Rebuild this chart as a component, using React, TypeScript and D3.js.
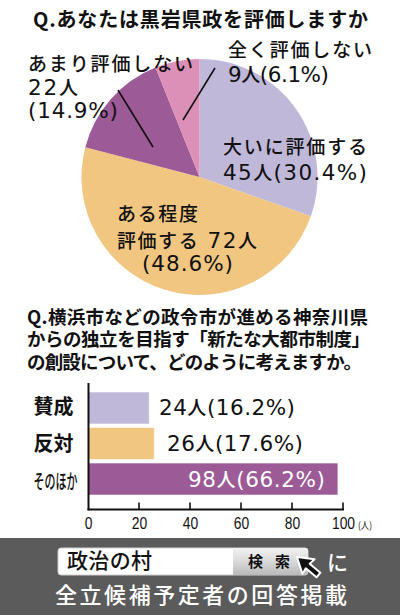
import React from 'react';
import * as d3 from 'd3';

// ---- Data ----
const pieNames = ['大いに評価する', 'ある程度評価する', 'あまり評価しない', '全く評価しない'];
const pieCounts = [45, 72, 22, 9];
const piePercents = ['30.4', '48.6', '14.9', '6.1'];
const pieColors = ['#bfb8d9', '#f0c680', '#9c5a96', '#dc8fb7'];

const barCategories = ['賛成', '反対', 'そのほか'];
const barCounts = [24, 26, 98];
const barPercents = ['16.2', '17.6', '66.2'];
const barColors = ['#bfb8d9', '#f0c680', '#9c5a96'];
const xTicks = [0, 20, 40, 60, 80, 100];

const title1 = 'Q.あなたは黒岩県政を評価しますか';
const title2Lines = [
  'Q.横浜市などの政令市が進める神奈川県',
  'からの独立を目指す「新たな大都市制度」',
  'の創設について、どのように考えますか。',
];

const FONT = "'Noto Sans CJK JP', 'Noto Sans', sans-serif";
const LFONT = "'DejaVu Sans', 'Liberation Sans', sans-serif";
const NUMFONT = "'Liberation Sans Narrow', 'Liberation Sans', 'Noto Sans', sans-serif";

type TProps = {
  x: number; y: number; len?: number; size: number; weight?: number | string;
  fill?: string; anchor?: string; adjust?: string; family?: string; children: React.ReactNode;
};
const T = ({ x, y, len, size, weight = 400, fill = '#111', anchor = 'start', adjust = 'spacing', family = FONT, children }: TProps) => (
  <text x={x} y={y} fontSize={size} fontWeight={weight} fill={fill} textAnchor={anchor}
    fontFamily={family} {...(len ? { textLength: len, lengthAdjust: adjust } : {})}>{children}</text>
);

// Mixed text: CJK runs in CJK font, latin runs (digits, %, parens) in a wider latin font, larger.
const CJK_RE = /([\u3000-\u30ff\u3400-\u9fff\uff00-\uffef]+)/;
const M = ({ x, y, len, fill = '#111', s }: { x: number; y: number; len?: number; fill?: string; s: string }) => {
  const parts = s.split(CJK_RE).filter(p => p.length > 0);
  return (
    <text x={x} y={y} fill={fill} {...(len ? { textLength: len, lengthAdjust: 'spacing' } : {})}>
      {parts.map((p, i) => CJK_RE.test(p)
        ? <tspan key={i} fontFamily={FONT} fontSize={19} fontWeight={500}>{p}</tspan>
        : <tspan key={i} fontFamily={LFONT} fontSize={21.5} fontWeight={400}>{p}</tspan>)}
    </text>
  );
};

export default function App() {
  const W = 400, H = 615;
  // Pie
  const cx = 199.5, cy = 177, R = 118;
  const pie = d3.pie<number>().sort(null).value(d => d)(pieCounts);
  const arc = d3.arc<d3.PieArcDatum<number>>().innerRadius(0).outerRadius(R);

  const lab = (i: number) => `${pieCounts[i]}人(${piePercents[i]}%)`;

  // Bars
  const x = d3.scaleLinear().domain([0, 100]).range([88, 343]);
  const y = d3.scaleBand<string>().domain(barCategories).range([392, 495]).paddingInner(0.1).paddingOuter(0);
  const axisY = 509.5;

  const barLabelPos = [
    { x: 159, y: 414.5, len: 136, fill: '#111' },
    { x: 167, y: 450.5, len: 136, fill: '#111' },
    { x: 188, y: 486.5, len: 137, fill: '#fff' },
  ];
  const catPos = [
    { y: 414, len: 40, size: 20, weight: 700, adjust: 'spacing' },
    { y: 450.5, len: 40, size: 20, weight: 700, adjust: 'spacing' },
    { y: 488.5, len: 44, size: 20, weight: 500, adjust: 'spacingAndGlyphs' },
  ];
  const LW = 500;

  return (
    <svg width={W} height={H} style={{ position: 'absolute', left: 0, top: 0, background: '#fff' }}>
      <rect x={0} y={0} width={W} height={H} fill="#fff" />
      {/* Title */}
      <T x={33} y={26.5} len={335} size={20} weight={700}>{title1}</T>

      {/* Pie */}
      <g transform={`translate(${cx},${cy})`}>
        {pie.map((d, i) => (
          <path key={i} d={arc(d) || ''} fill={pieColors[i]} />
        ))}
      </g>
      {/* leader lines */}
      <line x1={118} y1={90} x2={153} y2={147} stroke="#111" strokeWidth={1.6} />
      <line x1={215} y1={68} x2={183} y2={120} stroke="#111" strokeWidth={1.6} />

      {/* pie labels */}
      <T x={223} y={154} len={144} size={19} weight={LW}>{pieNames[0]}</T>
      <M x={223} y={179.5} len={144} s={lab(0)} />

      <T x={117} y={221} len={81} size={19} weight={LW}>{pieNames[1].slice(0, 4)}</T>
      <M x={117} y={247.5} len={140} s={`${pieNames[1].slice(4)} ${pieCounts[1]}人`} />
      <M x={142} y={271} len={91} s={`(${piePercents[1]}%)`} />

      <T x={28} y={71} len={165} size={19} weight={LW}>{pieNames[2]}</T>
      <M x={28} y={95} len={50} s={`${pieCounts[2]}人`} />
      <M x={28} y={118} len={90} s={`(${piePercents[2]}%)`} />

      <T x={228} y={57} len={144} size={19} weight={LW}>{pieNames[3]}</T>
      <M x={228} y={82} len={101} s={lab(3)} />

      {/* Question 2 */}
      {title2Lines.map((s, i) => (
        <T key={i} x={27} y={[323.5, 346, 368.5][i]} len={[341, 343, 335][i]} size={18.5} weight={700}>{s}</T>
      ))}

      {/* Bars */}
      {barCategories.map((c, i) => (
        <rect key={c} x={x(0)} y={y(c)!} width={x(barCounts[i]) - x(0)} height={y.bandwidth()}
          fill={barColors[i]} stroke="#ffffff" strokeOpacity={0.55} strokeWidth={1} />
      ))}
      {barCategories.map((c, i) => (
        <M key={'l' + c} x={barLabelPos[i].x} y={barLabelPos[i].y} len={barLabelPos[i].len}
          fill={barLabelPos[i].fill} s={`${barCounts[i]}人(${barPercents[i]}%)`} />
      ))}
      {barCategories.map((c, i) => (
        <T key={'c' + c} x={33.5} y={catPos[i].y} len={catPos[i].len} size={catPos[i].size}
          weight={catPos[i].weight} adjust={catPos[i].adjust}>{c}</T>
      ))}
      {/* Axes */}
      <line x1={88.5} y1={383} x2={88.5} y2={axisY + 0.8} stroke="#111" strokeWidth={2} />
      <line x1={87.5} y1={axisY} x2={x(100) + 1} y2={axisY} stroke="#111" strokeWidth={2} />
      {xTicks.filter(v => v > 0).map(v => (
        <line key={'t' + v} x1={x(v)} y1={axisY - 7} x2={x(v)} y2={axisY} stroke="#111" strokeWidth={1.6} />
      ))}
      {xTicks.map(v => (
        <T key={'tl' + v} x={x(v) + 0.5} y={529} size={16} anchor="middle" family={NUMFONT}
          len={String(v).length * 7.7} adjust="spacingAndGlyphs">{String(v)}</T>
      ))}
      <T x={358} y={529} size={10} len={14} adjust="spacingAndGlyphs">(人)</T>

      {/* Banner */}
      <rect x={0} y={538} width={W} height={H - 538} fill="#5b5b5b" />
      <defs>
        <linearGradient id="btn" x1="0" y1="0" x2="0" y2="1">
          <stop offset="0" stopColor="#f2f2f2" />
          <stop offset="0.5" stopColor="#d9d9d9" />
          <stop offset="1" stopColor="#b9b9b9" />
        </linearGradient>
      </defs>
      <rect x={58} y={548} width={250} height={27} rx={3} fill="#fff" stroke="#cfcfcf" strokeWidth={1} />
      <path d="M233,548 H305 A3,3 0 0 1 308,551 V572 A3,3 0 0 1 305,575 H233 Z" fill="url(#btn)" />
      <T x={67} y={568} len={85} size={21} weight={500}>政治の村</T>
      <T x={248} y={567} len={42} size={15} weight={700}>検 索</T>
      <g transform="translate(297,557) rotate(40)">
        <path d="M0,0 L15,-9.5 L14,-3 L28,-3 L28,3 L14,3 L15,9.5 Z" fill="#111" stroke="#fff" strokeWidth={2} strokeLinejoin="round" />
      </g>
      <T x={327} y={570} size={21} fill="#fff" weight={500}>に</T>
      <T x={55} y={603} len={292} size={22} fill="#fff" weight={500}>全立候補予定者の回答掲載</T>
    </svg>
  );
}
